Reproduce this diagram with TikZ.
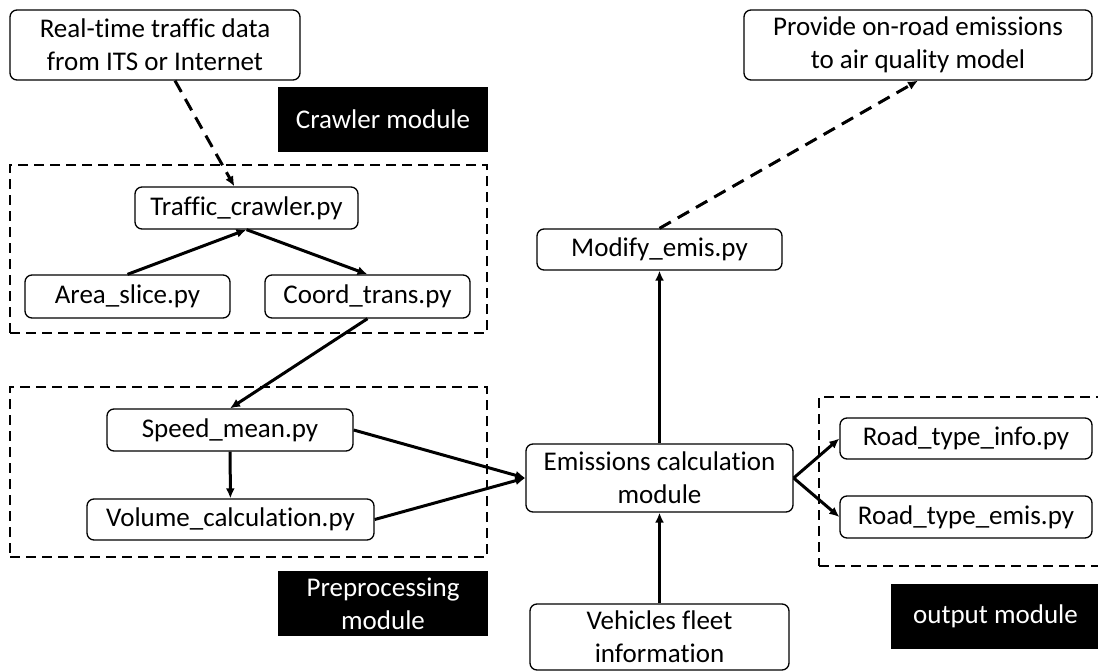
\documentclass[tikz,border=0pt]{standalone}
\usepackage{fontspec}
\setmainfont{Carlito}[Ligatures=NoCommon]
\usetikzlibrary{arrows.meta}

\tikzset{
  pybox/.style={draw,rounded corners=7pt,line width=1.3pt,inner sep=2pt,align=center,
                font=\fontsize{27}{33}\selectfont},
  modlabel/.style={fill=black,text=white,inner sep=2pt,align=center,
                font=\fontsize{27}{33}\selectfont,minimum width=210pt,minimum height=65pt},
  group/.style={draw,dash pattern=on 10pt off 6pt,line width=2.2pt,inner sep=0pt},
  flow/.style={line width=3pt,-{Latex[length=10pt,width=9pt]}},
  webflow/.style={flow,dash pattern=on 13pt off 8pt}
}

\begin{document}
\begin{tikzpicture}[x=1pt,y=-1pt]
  \useasboundingbox (0,0) rectangle (1098,672);
  \node[group,minimum width=477pt,minimum height=168pt] (crawlgrp) at (248.5,249)   {};
  \node[group,minimum width=477pt,minimum height=170pt] (prepgrp)  at (248.5,472)   {};
  \node[group,minimum width=291pt,minimum height=169pt] (outgrp)   at (964.5,481.5) {};
  \node[pybox,minimum width=290pt,minimum height=70pt] (realtime) at (155,45)
        {Real-time traffic data\\from ITS or Internet};
  \node[pybox,minimum width=348pt,minimum height=70pt] (provide)  at (918,45)
        {Provide on-road emissions\\to air quality model};
  \node[modlabel]                                      (crawlmod) at (383,119.5) {Crawler module};
  \node[pybox,minimum width=223pt,minimum height=42pt] (crawler)  at (246.5,208) {Traffic\_crawler.py};
  \node[pybox,minimum width=205pt,minimum height=43pt] (area)     at (127.5,296.5) {Area\_slice.py};
  \node[pybox,minimum width=205pt,minimum height=43pt] (coord)    at (367.5,296.5) {Coord\_trans.py};
  \node[pybox,minimum width=246pt,minimum height=42pt] (speed)    at (230,430)   {Speed\_mean.py};
  \node[pybox,minimum width=287pt,minimum height=41pt] (volume)   at (230.5,519.5) {Volume\_calculation.py};
  \node[modlabel]                                      (prepmod)  at (383,603.5) {Preprocessing\\module};
  \node[pybox,minimum width=245pt,minimum height=41pt] (modify)   at (659.5,249.5) {Modify\_emis.py};
  \node[pybox,minimum width=267pt,minimum height=68pt] (emis)     at (659.5,478) {Emissions calculation\\module};
  \node[pybox,minimum width=259pt,minimum height=66pt] (vehicles) at (659.5,637) {Vehicles fleet\\information};
  \node[pybox,minimum width=252pt,minimum height=41pt] (info)     at (966,438.5) {Road\_type\_info.py};
  \node[pybox,minimum width=252pt,minimum height=42pt] (rtemis)   at (966,517)   {Road\_type\_emis.py};
  \node[modlabel,minimum width=209pt]                  (outmod)   at (995.5,616.5) {output module};
  \draw[webflow] (realtime) -- (crawler);
  \draw[flow] (area.north)    -- (crawler.south);
  \draw[flow] (crawler.south) -- (coord.north);
  \draw[flow] (coord.south)   -- (speed.north);
  \draw[flow] (speed)         -- (volume);
  \draw[flow] (speed.east)    -- (emis.west);
  \draw[flow] (volume.east)   -- (emis.west);
  \draw[flow] (vehicles)      -- (emis);
  \draw[flow] (emis)          -- (modify);
  \draw[webflow] (modify.north) -- (provide.south);
  \draw[flow] (emis.east)     -- (info.west);
  \draw[flow] (emis.east)     -- (rtemis.west);
\end{tikzpicture}
\end{document}
